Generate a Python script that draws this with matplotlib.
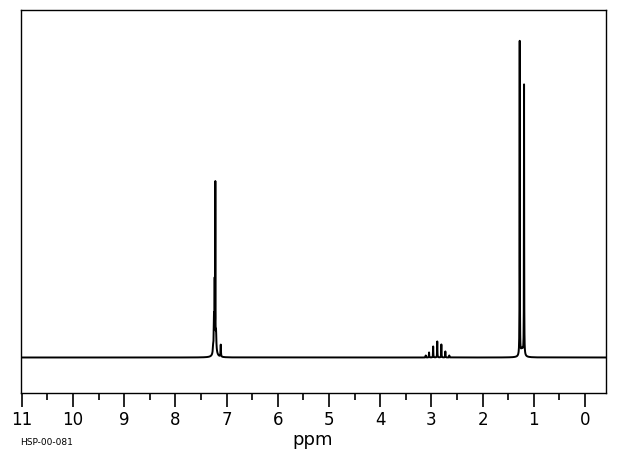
import numpy as np
import matplotlib
matplotlib.use("Agg")
import matplotlib.pyplot as plt

# peak list (ppm, height, half width in ppm)
peak_ppm = [7.222, 7.219, 7.232, 7.245, 7.205, 7.26, 7.113,
            3.11, 3.045, 2.965, 2.885, 2.805, 2.727, 2.65,
            1.275, 1.190, 1.23]
peak_height = [14, 156, 62, 32, 16, 8, 12,
               2, 5, 11, 16, 13, 6, 2,
               314, 270, 8]
peak_width = [0.025, 0.0015, 0.003, 0.004, 0.006, 0.008, 0.004,
              0.003, 0.003, 0.003, 0.003, 0.003, 0.003, 0.003,
              0.0025, 0.0025, 0.03]

xticks = list(range(0, 12))
xlabel = "ppm"
code = "HSP-00-081"

ppm = np.linspace(-0.41, 11.02, 120000)
signal = np.zeros_like(ppm)
for p, h, w in zip(peak_ppm, peak_height, peak_width):
    signal += h * w**2 / ((ppm - p)**2 + w**2)

fig = plt.figure(figsize=(6.2, 4.55), dpi=100)
ax = fig.add_axes([0.0334, 0.1363, 0.9440, 0.8417])
ax.plot(ppm, signal, color="black", linewidth=1.4)

ax.set_xlim(11.02, -0.41)
ax.set_ylim(-35.5, 347.5)
ax.set_yticks([])
ax.set_xticks(xticks)
ax.set_xticks(np.arange(0.5, 11, 1.0), minor=True)
ax.tick_params(axis="x", which="major", direction="out", length=10, width=1.2, pad=3, labelsize=12)
ax.tick_params(axis="x", which="minor", direction="out", length=5, width=1.2)
for s in ax.spines.values():
    s.set_linewidth(1.0)

fig.text(0.505, 0.033, xlabel, ha="center", va="center", fontsize=13)
fig.text(0.032, 0.028, code, ha="left", va="center", fontsize=6.5)

plt.savefig("out.png", dpi=100)
